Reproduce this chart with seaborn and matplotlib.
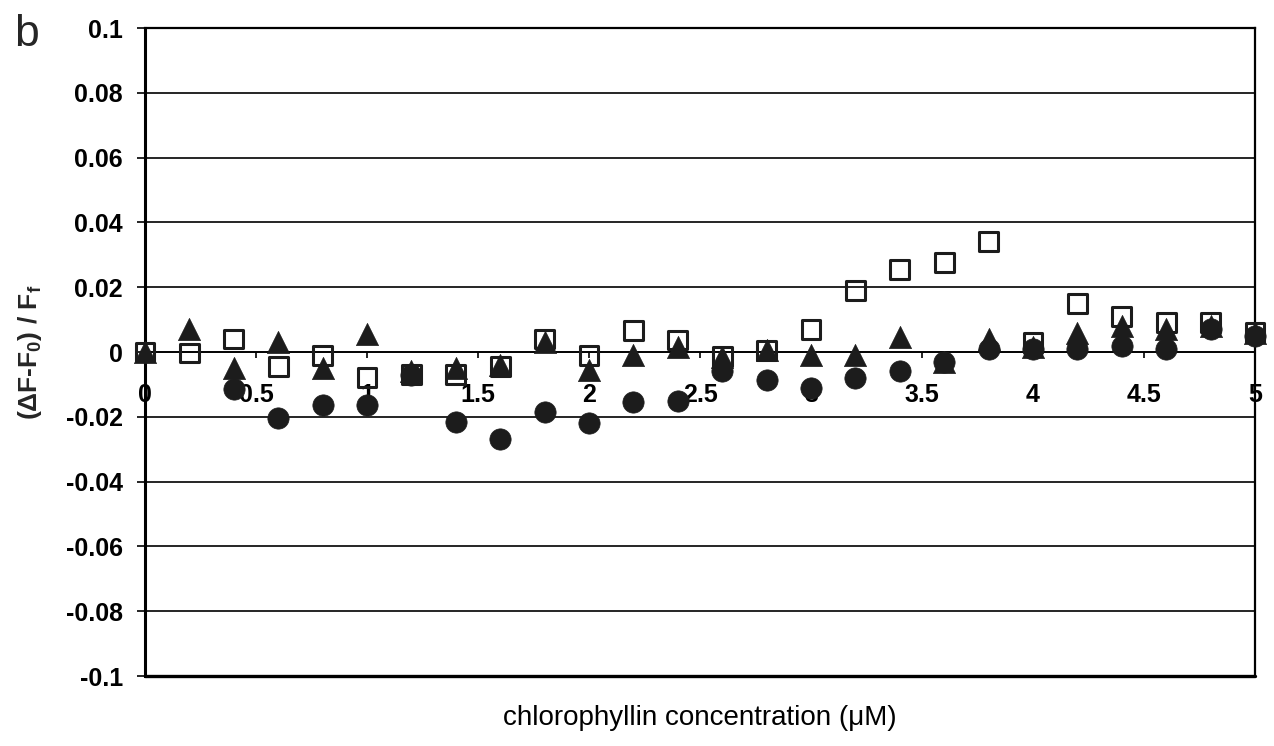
import numpy as np
import pandas as pd
import matplotlib
matplotlib.use("Agg")
import matplotlib.pyplot as plt
import seaborn as sns

# ---- data ----
concentration = [0.0, 0.2, 0.4, 0.6, 0.8, 1.0, 1.2, 1.4, 1.6, 1.8, 2.0, 2.2, 2.4,
                 2.6, 2.8, 3.0, 3.2, 3.4, 3.6, 3.8, 4.0, 4.2, 4.4, 4.6, 4.8, 5.0]
squares = [0.0, -0.0003, 0.004, -0.0045, -0.001, -0.008, -0.007, -0.007, -0.0046,
           0.004, -0.001, 0.0065, 0.0037, -0.0015, 0.0006, 0.007, 0.019, 0.0256,
           0.0275, 0.034, 0.003, 0.015, 0.011, 0.009, 0.009, 0.006]
triangles = [0.0, 0.007, -0.005, 0.003, -0.005, 0.0055, -0.006, -0.005, -0.004,
             0.003, -0.0055, -0.001, 0.0015, -0.0015, 0.0005, -0.001, -0.001,
             0.0045, -0.003, 0.004, 0.0015, 0.006, 0.008, 0.007, 0.008, 0.006]
circles = [np.nan, np.nan, -0.0115, -0.0205, -0.0164, -0.0164, -0.007, -0.0216, -0.027,
           -0.0185, -0.022, -0.0155, -0.015, -0.006, -0.0085, -0.011, -0.008,
           -0.006, -0.003, 0.001, 0.001, 0.001, 0.002, 0.001, 0.007, 0.005]

xtick_values = [0, 0.5, 1, 1.5, 2, 2.5, 3, 3.5, 4, 4.5, 5]
xtick_labels = ["0", "0.5", "1", "1.5", "2", "2.5", "3", "3.5", "4", "4.5", "5"]
ytick_values = [0.1, 0.08, 0.06, 0.04, 0.02, 0, -0.02, -0.04, -0.06, -0.08, -0.1]
ytick_labels = ["0.1", "0.08", "0.06", "0.04", "0.02", "0", "-0.02", "-0.04",
                "-0.06", "-0.08", "-0.1"]

df_sq = pd.DataFrame({"x": concentration, "y": squares})
df_tr = pd.DataFrame({"x": concentration, "y": triangles})
df_ci = pd.DataFrame({"x": concentration, "y": circles}).dropna()

sns.set_style("white")
plt.rcParams["font.family"] = ["Liberation Sans", "DejaVu Sans"]
plt.rcParams["mathtext.fontset"] = "custom"
plt.rcParams["mathtext.rm"] = "Liberation Sans:bold"
plt.rcParams["mathtext.it"] = "Liberation Sans:bold"
plt.rcParams["mathtext.bf"] = "Liberation Sans:bold"
plt.rcParams["mathtext.default"] = "rm"

INK = "#1c1c1c"

fig = plt.figure(figsize=(12.74, 7.46), dpi=100)
ax = fig.add_axes([145 / 1274, 1 - 676 / 746, (1255 - 145) / 1274, (676 - 28) / 746])

sns.scatterplot(data=df_sq, x="x", y="y", ax=ax, marker="s", s=185,
                facecolor="none", edgecolor=INK, linewidth=2.2, clip_on=False,
                zorder=3)
sns.scatterplot(data=df_tr, x="x", y="y", ax=ax, marker="^", s=255,
                color=INK, edgecolor=INK, linewidth=0.5, clip_on=False, zorder=4)
sns.scatterplot(data=df_ci, x="x", y="y", ax=ax, marker="o", s=235,
                color=INK, edgecolor=INK, linewidth=0.5, clip_on=False, zorder=5)

ax.set_xlim(0, 5)
ax.set_ylim(-0.1, 0.1)
ax.set_axisbelow(True)

# move the x axis to y = 0 first (this resets tick properties)
ax.spines["bottom"].set_position(("data", 0))

ax.set_yticks(ytick_values)
ax.set_yticklabels(ytick_labels, fontsize=18, fontweight="bold")
ax.set_xticks(xtick_values)
ax.set_xticklabels(xtick_labels, fontsize=18, fontweight="bold")

ax.yaxis.grid(True, color="black", linewidth=1.2)
ax.xaxis.grid(False)

ax.spines["bottom"].set_linewidth(1.2)
ax.spines["left"].set_linewidth(2.2)
ax.spines["right"].set_linewidth(1.6)
ax.spines["top"].set_linewidth(1.6)
for sp in ax.spines.values():
    sp.set_color("black")
ax.axhline(-0.1, color="black", linewidth=2.4, clip_on=False, zorder=2)

ax.tick_params(axis="y", direction="out", length=6, width=1.2, pad=10,
               colors="black", left=True)
ax.tick_params(axis="x", direction="out", length=4.5, width=1.2, pad=18,
               colors="black", bottom=True)
for lab in ax.get_xticklabels() + ax.get_yticklabels():
    lab.set_fontweight("bold")
    lab.set_fontsize(18)

ax.set_xlabel("")
ax.set_ylabel("")

fig.text(30 / 1274, 1 - 352 / 746, r"($\Delta$F-F$_0$) / F$_f$", rotation=90,
         ha="center", va="center", fontsize=19, fontweight="bold")
fig.text(700 / 1274, 1 - 718 / 746, "chlorophyllin concentration (\u03bcM)",
         ha="center", va="center", fontsize=20, color="black")
fig.text(14 / 1274, 1 - 34 / 746, "b", ha="left", va="center", fontsize=32)

fig.savefig("out.png", dpi=100)
